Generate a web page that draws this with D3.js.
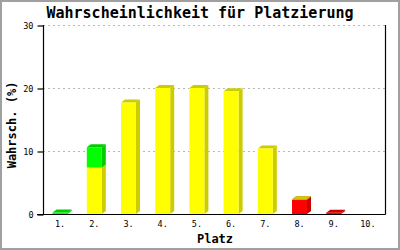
<!DOCTYPE html>
<html>
<head>
<meta charset="utf-8">
<script src="https://cdn.jsdelivr.net/npm/d3@7"></script>
<style>
  body { margin: 0; background: #fff; }
  text { font-family: "DejaVu Sans Mono", "Liberation Mono", monospace; fill: #000; }
</style>
</head>
<body>
<svg id="chart"></svg>
<script>
// places on the x axis
var places = ["1.", "2.", "3.", "4.", "5.", "6.", "7.", "8.", "9.", "10."];
// stacked series, bottom to top
var redValues = [0, 0, 0, 0, 0, 0, 0, 2.3, 0.2, 0];
var yellowValues = [0, 7.4, 17.7, 20.0, 20.0, 19.5, 10.4, 0.05, 0, 0];
var greenValues = [0.25, 3.2, 0, 0, 0, 0, 0, 0, 0, 0];
var yTicks = [0, 10, 20, 30];

var seriesList = [
  { name: "red", values: redValues, front: "#ff0000", dark: "#cc0000" },
  { name: "yellow", values: yellowValues, front: "#ffff00", dark: "#cccc00" },
  { name: "green", values: greenValues, front: "#00ff00", dark: "#00cc00" }
];

var chartWidth = 400, chartHeight = 250;
var plotLeft = 43, plotRight = 385, plotTop = 25, plotBottom = 214;
var depthX = 4, depthY = 3;

var svg = d3.select("#chart").attr("width", chartWidth).attr("height", chartHeight);

// frame
svg.append("rect")
  .attr("x", 1).attr("y", 1)
  .attr("width", chartWidth - 2).attr("height", chartHeight - 2)
  .attr("fill", "#fff")
  .attr("stroke", "#a0a0a0")
  .attr("stroke-width", 2);

var x = d3.scaleBand().domain(places).range([plotLeft, plotRight]);
var y = d3.scaleLinear().domain([0, 30]).range([plotBottom, plotTop]);

// grid lines
svg.append("g")
  .selectAll("line")
  .data(yTicks.filter(function (d) { return d > 0; }))
  .enter()
  .append("line")
  .attr("x1", plotLeft).attr("x2", plotRight)
  .attr("y1", function (d) { return y(d) + 0.5; })
  .attr("y2", function (d) { return y(d) + 0.5; })
  .attr("stroke", "#b8b8b8")
  .attr("stroke-dasharray", "2,3");

// stacked 3D bars
var stack = d3.stack()
  .keys(seriesList.map(function (s) { return s.name; }))
  .value(function (d, key) { return d[key]; });

var rows = places.map(function (p, i) {
  var row = { place: p };
  seriesList.forEach(function (s) { row[s.name] = s.values[i]; });
  return row;
});
var stacked = stack(rows);

var barW = 15;
var bars = svg.append("g");
stacked.forEach(function (layer, k) {
  var s = seriesList[k];
  layer.forEach(function (seg) {
    var v = seg[1] - seg[0];
    if (v <= 0) return;
    var place = seg.data.place;
    var x0 = x(place) + x.bandwidth() / 2 - barW / 2;
    var x1 = x0 + barW;
    var yTop = y(seg[1]);
    var yBot = y(seg[0]);
    // side face
    bars.append("polygon")
      .attr("points", [
        [x1, yBot], [x1, yTop], [x1 + depthX, yTop - depthY], [x1 + depthX, yBot - depthY]
      ].join(" "))
      .attr("fill", s.dark);
    // top face
    bars.append("polygon")
      .attr("points", [
        [x0, yTop], [x0 + depthX, yTop - depthY], [x1 + depthX, yTop - depthY], [x1, yTop]
      ].join(" "))
      .attr("fill", s.dark);
    // front face
    bars.append("rect")
      .attr("x", x0).attr("y", yTop)
      .attr("width", barW).attr("height", yBot - yTop)
      .attr("fill", s.front);
  });
});

// axes lines
svg.append("line")
  .attr("x1", plotLeft - 6).attr("x2", plotRight + 0.5)
  .attr("y1", plotBottom + 0.5).attr("y2", plotBottom + 0.5)
  .attr("stroke", "#000").attr("stroke-width", 1.2);
svg.append("line")
  .attr("x1", plotLeft + 0.5).attr("x2", plotLeft + 0.5)
  .attr("y1", plotTop).attr("y2", plotBottom + 0.5)
  .attr("stroke", "#000").attr("stroke-width", 1.2);
svg.append("line")
  .attr("x1", plotRight + 0.5).attr("x2", plotRight + 0.5)
  .attr("y1", plotTop).attr("y2", plotBottom + 0.5)
  .attr("stroke", "#000").attr("stroke-width", 1.2);

// y ticks
var yAxis = svg.append("g").attr("transform", "translate(" + (plotLeft + 0.5) + ",0.5)")
  .call(d3.axisLeft(y).tickValues(yTicks).tickSize(6).tickPadding(4));
yAxis.select(".domain").remove();
yAxis.selectAll("line").attr("stroke", "#000").attr("stroke-width", 1.2);
yAxis.selectAll("text")
  .attr("font-family", "DejaVu Sans Mono")
  .attr("font-size", 8.5)
  .attr("fill", "#000");

// x labels
var xAxis = svg.append("g").attr("transform", "translate(0," + (plotBottom + 0.5) + ")")
  .call(d3.axisBottom(x).tickSize(0).tickPadding(6));
xAxis.select(".domain").remove();
xAxis.selectAll("text")
  .attr("font-family", "DejaVu Sans Mono")
  .attr("font-size", 8.5)
  .attr("fill", "#000");

// titles
svg.append("text")
  .attr("x", 200).attr("y", 18)
  .attr("text-anchor", "middle")
  .attr("font-size", 15)
  .attr("font-weight", "bold")
  .text("Wahrscheinlichkeit für Platzierung");

svg.append("text")
  .attr("x", (plotLeft + plotRight) / 2 + 1).attr("y", 243)
  .attr("text-anchor", "middle")
  .attr("font-size", 12)
  .attr("font-weight", "bold")
  .text("Platz");

svg.append("text")
  .attr("transform", "translate(16,125) rotate(-90)")
  .attr("text-anchor", "middle")
  .attr("font-size", 12)
  .attr("font-weight", "bold")
  .text("Wahrsch. (%)");
</script>
</body>
</html>
